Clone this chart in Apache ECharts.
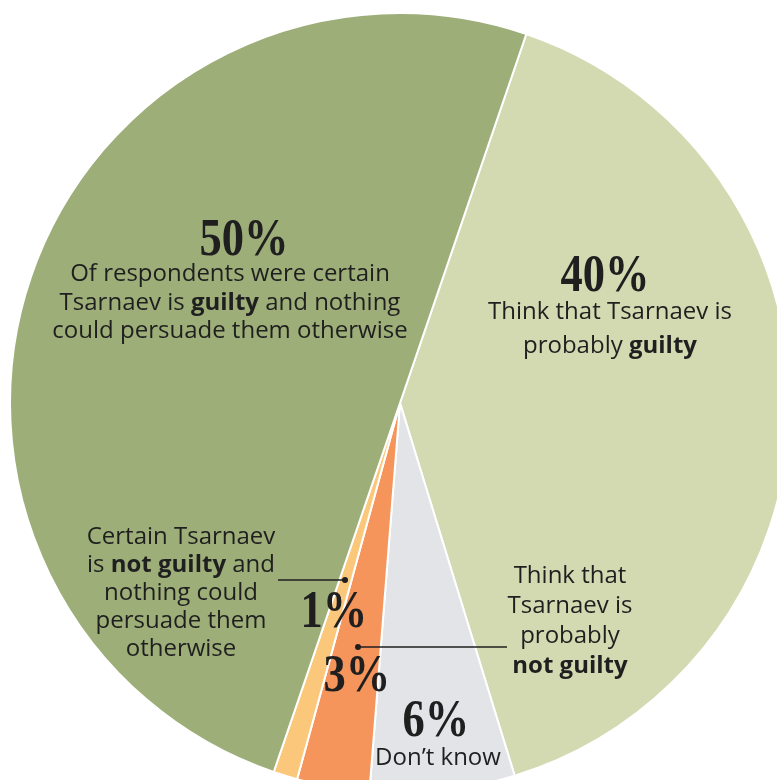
<!DOCTYPE html>
<html>
<head>
<meta charset="utf-8">
<script src="https://cdn.jsdelivr.net/npm/echarts@6/dist/echarts.min.js"></script>
<style>
  html, body { margin: 0; padding: 0; background: #ffffff; }
  #chart { width: 777px; height: 780px; }
</style>
</head>
<body>
<div id="chart"></div>
<script>
// Poll: what respondents think about Tsarnaev's guilt (clockwise order)
const categories = [
  'Probably guilty',
  "Don't know",
  'Probably not guilty',
  'Certain not guilty',
  'Certain guilty'
];
const values = [40, 6, 3, 1, 50];
const sliceColors = ['#d3dab1', '#e2e4e8', '#f5955b', '#fbc87b', '#9dae78'];

const percentFont = 'bold 53px "Liberation Serif", "DejaVu Serif", serif';
const bodyFamily = '"Open Sans", Lato, "Noto Sans", sans-serif';
const bodySize = 24;
const ink = '#1f1f1f';

const chart = echarts.init(document.getElementById('chart'), null, { renderer: 'canvas' });

function pct(i) { return values[i] + '%'; }

// Large condensed percentage figure
function bigText(str, x, y) {
  return {
    type: 'text', x: x, y: y, z: 100, silent: true,
    scaleX: 0.84, scaleY: 1,
    style: { text: str, font: percentFont, fill: ink, align: 'center', verticalAlign: 'middle' }
  };
}

// Centred explanatory text with optional {b|bold} runs
function bodyText(str, x, y, lineHeight) {
  return {
    type: 'text', x: x, y: y, z: 100, silent: true,
    style: {
      text: str,
      fontFamily: bodyFamily, fontSize: bodySize, fill: ink,
      lineHeight: lineHeight,
      align: 'center', verticalAlign: 'middle',
      rich: {
        b: { fontFamily: bodyFamily, fontSize: bodySize, fontWeight: 'bold', fill: ink, lineHeight: lineHeight }
      }
    }
  };
}

function leader(x1, y1, x2, y2, dotX, dotY) {
  return [
    { type: 'line', z: 100, silent: true, shape: { x1: x1, y1: y1, x2: x2, y2: y2 },
      style: { stroke: ink, lineWidth: 1.5 } },
    { type: 'circle', z: 100, silent: true, shape: { cx: dotX, cy: dotY, r: 3 },
      style: { fill: ink } }
  ];
}

const option = {
  animation: false,
  backgroundColor: '#ffffff',
  series: [{
    type: 'pie',
    z: 1,
    center: [400, 403],
    radius: [0, 390],
    startAngle: 71.1,
    clockwise: true,
    silent: true,
    label: { show: false },
    labelLine: { show: false },
    itemStyle: { borderColor: '#ffffff', borderWidth: 2 },
    data: categories.map((name, i) => ({
      name: name,
      value: values[i],
      itemStyle: { color: sliceColors[i] }
    }))
  }],
  graphic: {
    elements: [
      bigText(pct(4), 244, 241),
      bodyText('Of respondents were certain\nTsarnaev is {b|guilty} and nothing\ncould persuade them otherwise', 230, 303, 28.5),

      bigText(pct(0), 605, 277),
      bodyText('Think that Tsarnaev is\nprobably {b|guilty}', 610, 329, 34),

      bodyText('Certain Tsarnaev\nis {b|not guilty} and\nnothing could\npersuade them\notherwise', 181, 593, 28),
      ...leader(278, 580, 345, 580, 345, 580),
      bigText(pct(3), 334, 613),

      bodyText('Think that\nTsarnaev is\nprobably\n{b|not guilty}', 570, 621, 30),
      ...leader(358, 647, 507, 647, 358, 647),
      bigText(pct(2), 357, 677),

      bigText(pct(1), 436, 722),
      bodyText('Don\u2019t know', 438, 758, 28)
    ]
  }
};

chart.setOption(option);
</script>
</body>
</html>
